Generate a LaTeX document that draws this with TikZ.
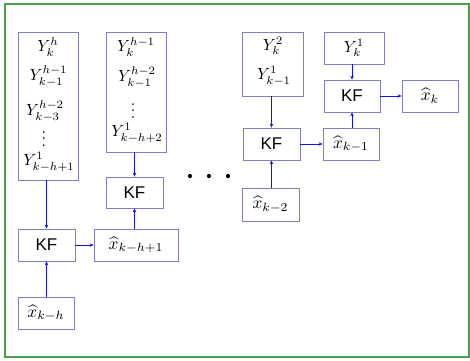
\documentclass[tikz,border=0pt]{standalone}
\usepackage{fontspec}
\setsansfont{Liberation Sans}
\usetikzlibrary{arrows.meta}
\definecolor{frame}{RGB}{76,160,76}
\definecolor{boxc}{RGB}{128,128,190}
\definecolor{arrc}{RGB}{20,20,230}
\newcommand\ysc[1]{\scalebox{1.62}{$#1$}}
\newcommand\xsc[1]{\scalebox{1.72}{$#1$}}
\begin{document}
\begin{tikzpicture}[x=1pt,y=-1pt,
  box/.style={draw=boxc,line width=0.8pt,inner sep=0pt,minimum width=#1},
  kf/.style={box=57,minimum height=32,font=\sffamily\fontsize{17}{17}\selectfont},
  xb/.style={box=#1,minimum height=32},
  ytxt/.style={inner sep=0pt},
  arr/.style={draw=arrc,line width=0.8pt,-{Stealth[length=4pt,width=3.5pt]}}]
\useasboundingbox (0,0) rectangle (470,360);
\draw[frame,line width=1.6pt] (5,4) rectangle (469,357);
% left column
\node[box=60,minimum height=148] (b1) at (48,106) {};
\node[ytxt] (b1a) at (48,47) {\ysc{Y_k^h}};
\node[ytxt] (b1b) at (48.5,76) {\ysc{Y_{k-1}^{h-1}}};
\node[ytxt] (b1c) at (45,111) {\ysc{Y_{k-3}^{h-2}}};
\node[ytxt] (b1d) at (44,134) {\ysc{\vdots}};
\node[ytxt] (b1e) at (49,162) {\ysc{Y_{k-h+1}^{1}}};
\node[kf] (kf1) at (46.5,245) {KF};
\node[xb=56] (x0) at (46,313) {\xsc{\widehat{x}_{k-h}}};
\node[xb=84] (x1) at (136,245) {\xsc{\widehat{x}_{k-h+1}}};
% second column
\node[box=60,minimum height=120] (b2) at (136,92) {};
\node[ytxt] (b2a) at (136,47) {\ysc{Y_k^{h-1}}};
\node[ytxt] (b2b) at (137,77) {\ysc{Y_{k-1}^{h-2}}};
\node[ytxt] (b2c) at (133,106) {\ysc{\vdots}};
\node[ytxt] (b2d) at (137,133) {\ysc{Y_{k-h+2}^{1}}};
\node[kf,minimum height=31] (kf2) at (134.5,192.5) {KF};
% dots
\fill (190,176) circle (2.1) (209,176) circle (2.1) (228,176) circle (2.1);
% third column
\node[box=61,minimum height=64] (b3) at (272.5,64) {};
\node[ytxt] (b3a) at (273,46) {\ysc{Y_k^{2}}};
\node[ytxt] (b3b) at (274,76) {\ysc{Y_{k-1}^{1}}};
\node[kf] (kf3) at (271.5,144) {KF};
\node[xb=57,minimum height=33] (x2) at (270.5,204.5) {\xsc{\widehat{x}_{k-2}}};
\node[xb=56] (xk1) at (351,144) {\xsc{\widehat{x}_{k-1}}};
% fourth column
\node[box=60,minimum height=32] (b4) at (354,48) {\ysc{Y_k^{1}}};
\node[kf,minimum width=56] (kf4) at (352,96) {KF};
\node[xb=56] (xk) at (430,96) {\xsc{\widehat{x}_{k}}};
% arrows
\draw[arr] (b1.south -| kf1.north) -- (kf1.north);
\draw[arr] (x0.north -| kf1.south) -- (kf1.south);
\draw[arr] (kf1.east) -- (x1.west);
\draw[arr] (x1.north -| kf2.south) -- (kf2.south);
\draw[arr] (b2.south -| kf2.north) -- (kf2.north);
\draw[arr] (b3.south -| kf3.north) -- (kf3.north);
\draw[arr] (x2.north -| kf3.south) -- (kf3.south);
\draw[arr] (kf3.east) -- (xk1.west);
\draw[arr] (xk1.north -| kf4.south) -- (kf4.south);
\draw[arr] (b4.south -| kf4.north) -- (kf4.north);
\draw[arr] (kf4.east) -- (xk.west);
\end{tikzpicture}
\end{document}
